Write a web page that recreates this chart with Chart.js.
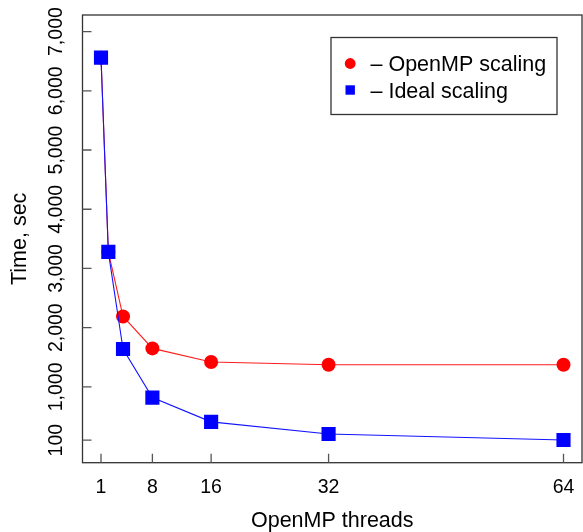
<!DOCTYPE html>
<html>
<head>
<meta charset="utf-8">
<script src="https://cdn.jsdelivr.net/npm/chart.js@4"></script>
<style>
  body { margin: 0; background: #fff; }
  #wrap { width: 583px; height: 532px; }
</style>
</head>
<body>
<div id="wrap"><canvas id="scaling"></canvas></div>
<script>
const threads = [1, 2, 4, 8, 16, 32, 64];
const openmp_time = [6560, 3280, 2190, 1650, 1420, 1375, 1375];
const ideal_time = [6560, 3280, 1640, 820, 410, 205, 102.5];
const series_names = ["OpenMP scaling", "Ideal scaling"];
const x_ticks = [1, 8, 16, 32, 64];
const y_ticks = [100, 1000, 2000, 3000, 4000, 5000, 6000, 7000];

const font_family = "'Liberation Sans', Arial, Helvetica, sans-serif";
Chart.defaults.font.family = font_family;
Chart.defaults.color = '#000';

const toPoints = vals => threads.map((t, i) => ({x: t, y: vals[i]}));

// R style box, inward ticks and the boxed legend
const box_plugin = {
    id: 'box',
    beforeDatasetsDraw(chart) {
        const {ctx, chartArea: a, scales} = chart;
        ctx.save();
        ctx.strokeStyle = '#333';
        ctx.lineWidth = 1.3;
        ctx.strokeRect(a.left, a.top, a.right - a.left, a.bottom - a.top);
        ctx.strokeStyle = '#555';
        ctx.beginPath();
        scales.x.ticks.forEach(t => {
            const px = scales.x.getPixelForValue(t.value);
            ctx.moveTo(px, a.bottom);
            ctx.lineTo(px, a.bottom - 9);
        });
        scales.y.ticks.forEach(t => {
            const py = scales.y.getPixelForValue(t.value);
            ctx.moveTo(a.left, py);
            ctx.lineTo(a.left + 9, py);
        });
        ctx.stroke();
        ctx.restore();
    },
    afterDraw(chart) {
        const {ctx, chartArea: a} = chart;
        const bx = a.right - 251, by = a.top + 22.5;
        ctx.save();
        ctx.strokeStyle = '#333';
        ctx.lineWidth = 1.3;
        ctx.strokeRect(bx, by, 226, 77);
        ctx.font = "21.5px " + font_family;
        ctx.textBaseline = 'alphabetic';
        chart.data.datasets.forEach((ds, i) => {
            const cy = by + 26 + i * 26.5;
            ctx.fillStyle = ds.pointBackgroundColor;
            if (ds.pointStyle === 'rect') {
                ctx.fillRect(bx + 14.5, cy - 4.7, 9.4, 9.4);
            } else {
                ctx.beginPath();
                ctx.arc(bx + 19.2, cy, 5.4, 0, Math.PI * 2);
                ctx.fill();
            }
            ctx.fillStyle = '#000';
            ctx.fillText('\u2013 ' + ds.label, bx + 39.5, cy + 7.7);
        });
        ctx.restore();
    }
};

const scaling_chart = new Chart(
    document.getElementById('scaling'),
    {
        type: 'line',
        data: {
            datasets: [{
                label: series_names[0],
                data: toPoints(openmp_time),
                borderColor: 'rgb(255, 30, 30)',
                borderWidth: 1.1,
                pointStyle: 'circle',
                pointRadius: 7,
                pointBorderWidth: 0,
                pointBackgroundColor: 'rgb(255, 0, 0)',
                order: 1
            }, {
                label: series_names[1],
                data: toPoints(ideal_time),
                borderColor: 'rgb(20, 20, 255)',
                borderWidth: 1.1,
                pointStyle: 'rect',
                pointRadius: 10,
                pointBorderWidth: 0,
                pointBackgroundColor: 'rgb(0, 0, 255)',
                order: 0
            }]
        },
        options: {
            responsive: true,
            maintainAspectRatio: false,
            animation: false,
            layout: {autoPadding: false, padding: {top: 15, right: 1, left: 0, bottom: 0}},
            plugins: {legend: {display: false}, tooltip: {enabled: false}},
            scales: {
                x: {
                    type: 'linear',
                    min: -1.52,
                    max: 66.52,
                    grid: {display: false, drawTicks: false},
                    border: {display: false},
                    afterBuildTicks: s => { s.ticks = x_ticks.map(v => ({value: v})); },
                    afterFit: s => { s.height = 69.3; s.paddingLeft = 0; s.paddingRight = 0; },
                    ticks: {font: {size: 19.5}, padding: 13, maxRotation: 0, autoSkip: false},
                    title: {display: true, text: 'OpenMP threads', font: {size: 21.5, lineHeight: 1}, padding: 0}
                },
                y: {
                    type: 'linear',
                    min: -280,
                    max: 7280,
                    grid: {display: false, drawTicks: false},
                    border: {display: false},
                    afterBuildTicks: s => { s.ticks = y_ticks.map(v => ({value: v})); },
                    afterFit: s => { s.width = 82.5; s.paddingTop = 0; s.paddingBottom = 0; },
                    ticks: {
                        font: {size: 19.5},
                        padding: 1,
                        minRotation: 90,
                        maxRotation: 90,
                        crossAlign: 'center',
                        autoSkip: false,
                        callback: v => v.toLocaleString('en-US')
                    },
                    title: {display: true, text: 'Time, sec', font: {size: 21.5, lineHeight: 1}, padding: {top: 9, bottom: 0}}
                }
            }
        },
        plugins: [box_plugin]
    }
);
</script>
</body>
</html>
